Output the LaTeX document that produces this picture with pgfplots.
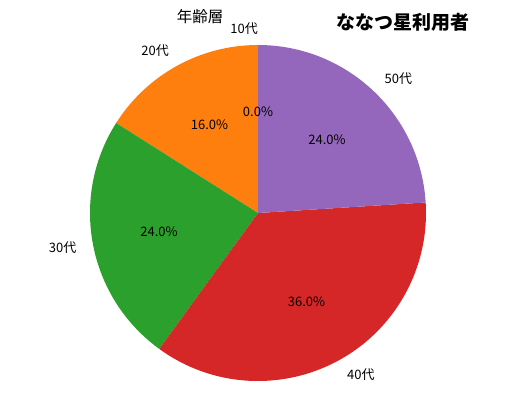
\documentclass[border=0pt]{standalone}
\usepackage{fontspec}
\setmainfont{Noto Sans CJK JP}
\usepackage{pgfplots}
\pgfplotsset{compat=1.18}

\definecolor{c10}{HTML}{1F77B4}
\definecolor{c20}{HTML}{FF7F0E}
\definecolor{c30}{HTML}{2CA02C}
\definecolor{c40}{HTML}{D62728}
\definecolor{c50}{HTML}{9467BD}

% wedge from cumulative percent #2 to #3, starting at 12 o'clock, counterclockwise
\newcommand{\slice}[3]{%
  \fill[#1] (axis cs:0,0) -- (axis cs:{168*cos(90+3.6*#2)},{168*sin(90+3.6*#2)})
    arc[start angle={90+3.6*#2}, end angle={90+3.6*#3}, radius=168pt] -- cycle;}
% outer label at 1.1 R, percentage at 0.6 R
\newcommand{\lab}[3]{%
  \node[anchor=#3, inner sep=0pt, font=\fontsize{13}{14}\selectfont]
    at (axis cs:{184.8*cos(90+3.6*#1)},{184.8*sin(90+3.6*#1)}) {#2};}
\newcommand{\pct}[2]{%
  \node[inner sep=0pt, font=\fontsize{13}{14}\selectfont]
    at (axis cs:{100.8*cos(90+3.6*#1)},{100.8*sin(90+3.6*#1)}) {#2};}

\begin{document}
\begin{tikzpicture}
\begin{axis}[
    hide axis,
    scale only axis,
    x=1pt, y=1pt,
    xmin=-258, xmax=257,
    ymin=-196, ymax=213,
    clip=false,
]
\path (rel axis cs:0,0) rectangle (rel axis cs:1,1);

% 10代 0, 20代 16, 30代 24, 40代 36, 50代 24 (%)
\slice{c20}{0}{16}
\slice{c30}{16}{40}
\slice{c40}{40}{76}
\slice{c50}{76}{100}

\lab{0}{10代}{east}
\lab{8}{20代}{east}
\lab{28}{30代}{east}
\lab{58}{40代}{west}
\lab{88}{50代}{west}

\pct{0}{0.0\%}
\pct{8}{16.0\%}
\pct{28}{24.0\%}
\pct{58}{36.0\%}
\pct{88}{24.0\%}

\node[inner sep=0pt, font=\fontsize{15.5}{16}\selectfont] at (axis cs:-58,196) {年齢層};
\node[inner sep=0pt, font=\fontsize{19}{20}\selectfont\bfseries] at (axis cs:145,191) {ななつ星利用者};
\end{axis}
\end{tikzpicture}
\end{document}
